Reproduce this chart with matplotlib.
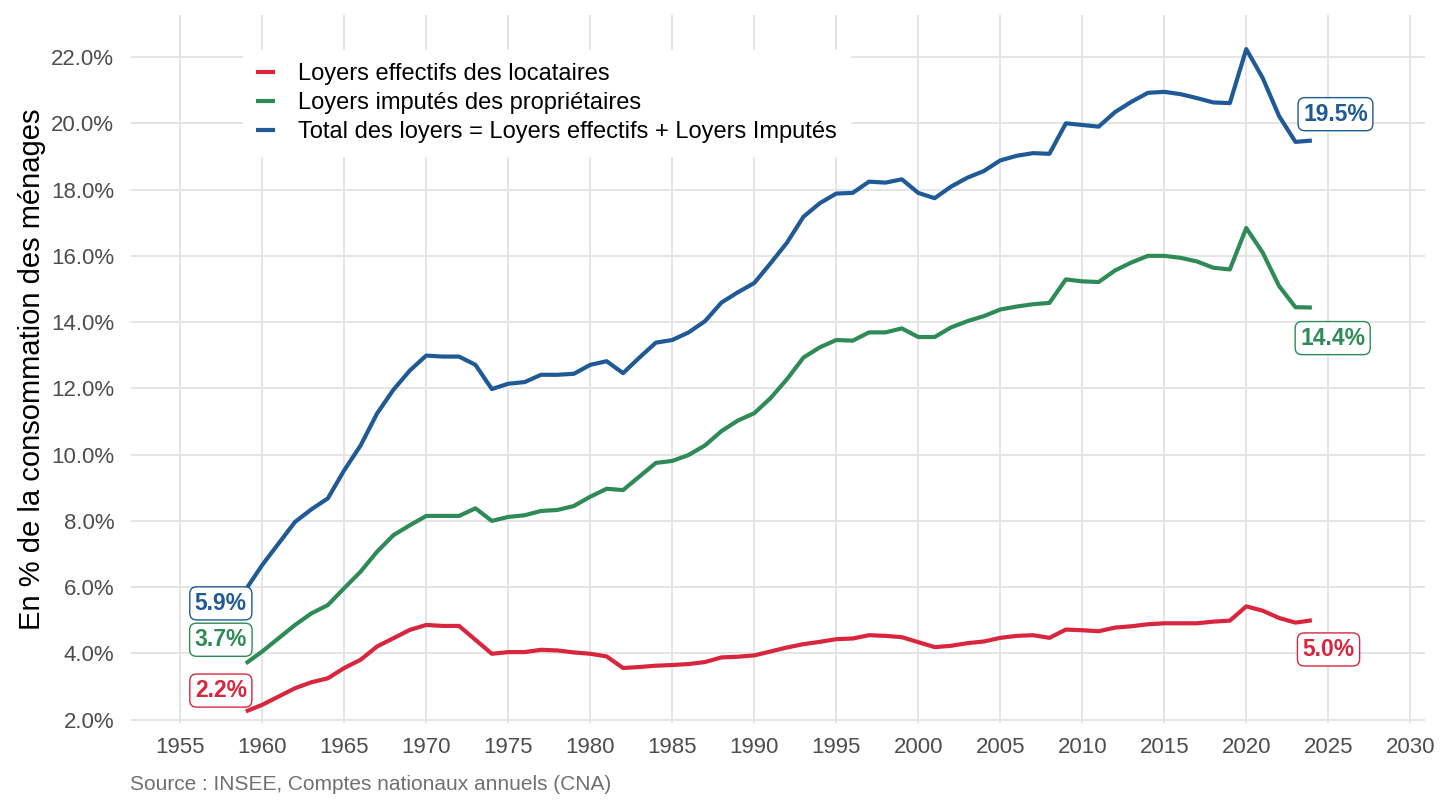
import matplotlib
matplotlib.use("Agg")
import matplotlib.pyplot as plt
from matplotlib.ticker import FuncFormatter, MultipleLocator

plt.rcParams['font.family'] = ['Liberation Sans', 'DejaVu Sans']

years = list(range(1959, 2025))

loyers_effectifs = [
    2.25, 2.45, 2.70, 2.95, 3.13, 3.25, 3.56, 3.81, 4.21, 4.46,
    4.71, 4.86, 4.83, 4.83, 4.41, 3.99, 4.04, 4.04, 4.11, 4.09,
    4.03, 3.99, 3.91, 3.56, 3.59, 3.63, 3.65, 3.68, 3.74, 3.88,
    3.90, 3.94, 4.06, 4.18, 4.28, 4.35, 4.43, 4.45, 4.55, 4.53,
    4.49, 4.34, 4.19, 4.23, 4.31, 4.36, 4.47, 4.53, 4.55, 4.47,
    4.72, 4.70, 4.67, 4.78, 4.82, 4.88, 4.91, 4.91, 4.91, 4.96,
    4.99, 5.42, 5.29, 5.07, 4.93, 5.00,
]

loyers_imputes = [
    3.70, 4.06, 4.46, 4.86, 5.21, 5.46, 5.97, 6.47, 7.07, 7.57,
    7.87, 8.15, 8.15, 8.15, 8.38, 8.00, 8.12, 8.17, 8.30, 8.33,
    8.45, 8.73, 8.97, 8.93, 9.34, 9.75, 9.81, 9.99, 10.28, 10.71,
    11.03, 11.25, 11.71, 12.28, 12.93, 13.24, 13.46, 13.44, 13.69, 13.69,
    13.81, 13.55, 13.55, 13.84, 14.03, 14.18, 14.38, 14.47, 14.54, 14.58,
    15.29, 15.23, 15.21, 15.56, 15.80, 16.00, 16.00, 15.94, 15.83, 15.64,
    15.59, 16.84, 16.10, 15.09, 14.45, 14.44,
]

total_loyers = [
    5.93, 6.67, 7.32, 7.97, 8.35, 8.68, 9.53, 10.28, 11.24, 11.96,
    12.54, 12.99, 12.96, 12.96, 12.71, 11.98, 12.14, 12.19, 12.41, 12.41,
    12.44, 12.71, 12.82, 12.46, 12.93, 13.38, 13.46, 13.69, 14.03, 14.59,
    14.90, 15.18, 15.78, 16.40, 17.18, 17.59, 17.88, 17.90, 18.24, 18.21,
    18.31, 17.90, 17.74, 18.09, 18.36, 18.56, 18.88, 19.02, 19.10, 19.08,
    20.00, 19.95, 19.90, 20.34, 20.65, 20.92, 20.95, 20.88, 20.76, 20.63,
    20.61, 22.24, 21.37, 20.22, 19.44, 19.48,
]

series = [
    ("Loyers effectifs des locataires", loyers_effectifs, "#d7263d"),
    ("Loyers imputés des propriétaires", loyers_imputes, "#2e8b57"),
    ("Total des loyers = Loyers effectifs + Loyers Imputés", total_loyers, "#1f5a96"),
]

# offsets (points) of the start / end labels
first_offsets = [(-18, 15), (-18, 17), (-18, -10)]
last_offsets = [(12, -21), (15, -22), (17, 19)]

fig = plt.figure(figsize=(14.4, 8.1), dpi=100)
ax = fig.add_axes([0.091, 0.1074, 0.8986, 0.8741])

for (name, vals, col), off0, off1 in zip(series, first_offsets, last_offsets):
    ax.plot(years, vals, color=col, lw=3, label=name, solid_capstyle='butt')
    for xv, yv, off in [(years[0], vals[0], off0), (years[-1], vals[-1], off1)]:
        ax.annotate(f"{yv:.1f}%", xy=(xv, yv), xytext=off, textcoords='offset points',
                    ha='center', va='center', color=col, fontsize=16.5, fontweight='bold',
                    bbox=dict(boxstyle='round,pad=0.22,rounding_size=0.3', fc='white', ec=col, lw=1))

ax.set_xlim(1952.0, 2030.9)
ax.set_ylim(1.9, 23.27)
ax.yaxis.set_major_locator(MultipleLocator(2))
ax.yaxis.set_major_formatter(FuncFormatter(lambda v, p: f"{v:.1f}%"))
ax.set_xticks(range(1955, 2031, 5))

ax.grid(True, color='#e3e3e3', lw=1.3)
ax.set_axisbelow(True)
for s in ax.spines.values():
    s.set_visible(False)
ax.tick_params(length=0, labelsize=16, labelcolor='#4d4d4d')
ax.tick_params(axis='x', pad=10)
ax.tick_params(axis='y', pad=12)

ax.set_ylabel("En % de la consommation des ménages", fontsize=21, labelpad=4)

leg = ax.legend(loc='upper left', bbox_to_anchor=(231 / 1440, 1 - 38 / 810),
                bbox_transform=fig.transFigure, fontsize=17, frameon=True,
                handlelength=0.8, handletextpad=1.0, labelspacing=0.3,
                borderpad=0.55, fancybox=False)
leg.get_frame().set_facecolor('white')
leg.get_frame().set_edgecolor('white')
leg.get_frame().set_alpha(1)

fig.text(130 / 1440, 1 - 785 / 810, "Source : INSEE, Comptes nationaux annuels (CNA)",
         fontsize=15, color='#707070', ha='left', va='center')

fig.savefig("out.png", dpi=100)
